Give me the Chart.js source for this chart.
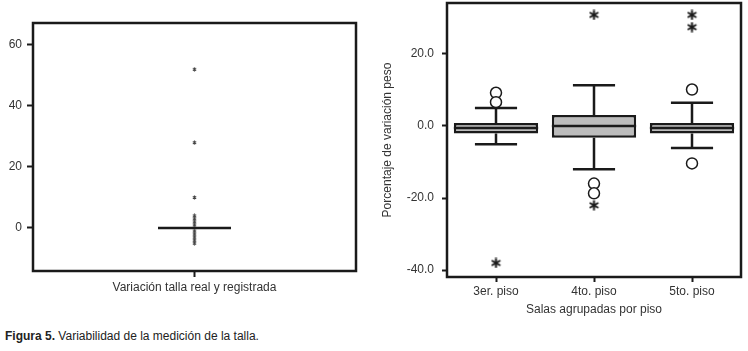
<!DOCTYPE html>
<html>
<head>
<meta charset="utf-8">
<script src="https://cdn.jsdelivr.net/npm/chart.js@4.4.1/dist/chart.umd.min.js"></script>
<style>
  body { margin: 0; background: #fff; }
  #page { position: relative; width: 748px; height: 351px; font-family: "Liberation Sans", Arial, sans-serif; color: #222; }
  #left { position: absolute; left: 0; top: 0; }
  #right { position: absolute; left: 370px; top: 0; }
  .caption { position: absolute; left: 5px; top: 328px; font-size: 12px; line-height: 16px; }
</style>
</head>
<body>
<div id="page">
  <canvas id="left" width="370" height="300"></canvas>
  <canvas id="right" width="378" height="320"></canvas>
  <div class="caption"><b>Figura 5.</b> Variabilidad de la medición de la talla.</div>
</div>
<script>
// left panel - talla
const tallaLabels = ["Variación talla real y registrada"];
const tallaQ1 = [0];
const tallaMedian = [0];
const tallaQ3 = [0];
const tallaLow = [0];
const tallaHigh = [0];
const tallaOutliers = [[]];
const tallaExtremes = [[52, 28, 10, 4, 3, 2, 1, -1, -2, -3, -4, -5]];
const tallaTicks = [0, 20, 40, 60];

// right panel - peso
const pisoLabels = ["3er. piso", "4to. piso", "5to. piso"];
const pesoQ1 = [-2.1, -3.3, -2.1];
const pesoMedian = [-0.6, 0, -0.6];
const pesoQ3 = [0.8, 3.0, 0.8];
const pesoLow = [-5.1, -12.0, -6.1];
const pesoHigh = [5.0, 11.3, 6.4];
const pesoOutliers = [[9.2, 6.6], [-16.0, -18.7], [10.1, -10.4]];
const pesoExtremes = [[-38.0], [30.8, -22.0], [30.8, 27.4]];
const pesoTicks = [-40, -20, 0, 20];

const ink = "#1a1a1a";
const textColor = "#333";
const font = { family: "'Liberation Sans', Arial, sans-serif", size: 12 };

// asterisk used by SPSS for extreme values
const makeStar = (size, lw, color) => {
  const c = document.createElement("canvas");
  c.width = c.height = size;
  const g = c.getContext("2d");
  g.strokeStyle = color;
  g.lineWidth = lw;
  const r = size / 2 - 0.5;
  [90, 30, 150].forEach((a) => {
    const rad = (a * Math.PI) / 180;
    g.moveTo(size / 2 - r * Math.cos(rad), size / 2 - r * Math.sin(rad));
    g.lineTo(size / 2 + r * Math.cos(rad), size / 2 + r * Math.sin(rad));
  });
  g.stroke();
  return c;
};

const toPoints = (labels, lists) => {
  let pts = [];
  lists.forEach((vals, i) => {
    vals.forEach((v) => pts.push({ x: labels[i], y: v }));
  });
  return pts;
};

// whiskers, median and the frame
const boxParts = (low, high, q1, q3, median) => ({
  id: "boxParts",
  afterDatasetsDraw(chart) {
    const ctx = chart.ctx;
    const y = chart.scales.y;
    const area = chart.chartArea;
    const meta = chart.getDatasetMeta(0);
    ctx.save();
    ctx.strokeStyle = ink;
    ctx.lineWidth = 2.5;
    meta.data.forEach((bar, i) => {
      const half = bar.width / 2;
      ctx.beginPath();
      if (high[i] > q3[i]) {
        ctx.moveTo(bar.x, y.getPixelForValue(q3[i]));
        ctx.lineTo(bar.x, y.getPixelForValue(high[i]));
        ctx.moveTo(bar.x - half / 2, y.getPixelForValue(high[i]));
        ctx.lineTo(bar.x + half / 2, y.getPixelForValue(high[i]));
      }
      if (low[i] < q1[i]) {
        ctx.moveTo(bar.x, y.getPixelForValue(q1[i]));
        ctx.lineTo(bar.x, y.getPixelForValue(low[i]));
        ctx.moveTo(bar.x - half / 2, y.getPixelForValue(low[i]));
        ctx.lineTo(bar.x + half / 2, y.getPixelForValue(low[i]));
      }
      ctx.moveTo(bar.x - half, y.getPixelForValue(median[i]));
      ctx.lineTo(bar.x + half, y.getPixelForValue(median[i]));
      ctx.stroke();
    });
    ctx.lineWidth = 2.5;
    ctx.strokeRect(area.left, area.top, area.right - area.left, area.bottom - area.top);
    ctx.restore();
  },
});

const makeBoxChart = (id, s) => {
  new Chart(document.getElementById(id), {
    type: "bar",
    data: {
      labels: s.labels,
      datasets: [
        {
          data: s.q1.map((v, i) => [v, s.q3[i]]),
          backgroundColor: "#bcbcbc",
          borderColor: ink,
          borderWidth: s.boxBorder,
          borderSkipped: false,
          barPercentage: s.barPct,
          categoryPercentage: 1,
        },
        {
          type: "line",
          data: toPoints(s.labels, s.outliers),
          showLine: false,
          pointStyle: "circle",
          pointRadius: 5.5,
          pointBackgroundColor: "#fff",
          pointBorderColor: ink,
          pointBorderWidth: 1.5,
        },
        {
          type: "line",
          data: toPoints(s.labels, s.extremes),
          showLine: false,
          pointStyle: s.star,
          pointRadius: 5,
        },
      ],
    },
    options: {
      responsive: false,
      animation: false,
      devicePixelRatio: 1,
      layout: { padding: s.padding, autoPadding: false },
      plugins: { legend: { display: false }, tooltip: { enabled: false } },
      scales: {
        x: {
          type: "category",
          offset: true,
          afterFit: (sc) => {
            sc.height = s.xHeight;
            sc.paddingLeft = 0;
            sc.paddingRight = 0;
          },
          grid: { display: true, drawOnChartArea: false, offset: false, tickLength: s.tickLen, tickColor: ink, tickWidth: 2 },
          border: { display: false },
          ticks: { padding: s.xPad, color: textColor, font: font, maxRotation: 0 },
          title: s.xTitle
            ? { display: true, text: s.xTitle, color: textColor, font: font, padding: { top: 4, bottom: 3 } }
            : { display: false },
        },
        y: {
          min: s.min,
          max: s.max,
          afterBuildTicks: (sc) => {
            sc.ticks = s.ticks.map((v) => ({ value: v }));
          },
          afterFit: (sc) => {
            sc.width = s.yWidth;
            sc.paddingTop = 0;
            sc.paddingBottom = 0;
          },
          grid: { display: true, drawOnChartArea: false, tickLength: s.tickLen, tickColor: ink, tickWidth: 2 },
          border: { display: false },
          ticks: { padding: s.yPad, color: textColor, font: font, callback: s.fmt },
          title: s.yTitle
            ? { display: true, text: s.yTitle, color: textColor, font: font, padding: { top: 10, bottom: 4 } }
            : { display: false },
        },
      },
    },
    plugins: [boxParts(s.low, s.high, s.q1, s.q3, s.median)],
  });
};

makeBoxChart("left", {
  labels: tallaLabels,
  q1: tallaQ1,
  q3: tallaQ3,
  median: tallaMedian,
  low: tallaLow,
  high: tallaHigh,
  outliers: tallaOutliers,
  extremes: tallaExtremes,
  ticks: tallaTicks,
  min: -14.1,
  max: 67.2,
  fmt: (v) => v,
  boxBorder: 0,
  barPct: 0.226,
  star: makeStar(5, 1.2, "#444"),
  padding: { top: 23, right: 14, left: 0, bottom: 0 },
  xHeight: 29,
  yWidth: 33,
  tickLen: 6,
  xPad: 3,
  yPad: 5,
});

makeBoxChart("right", {
  labels: pisoLabels,
  q1: pesoQ1,
  q3: pesoQ3,
  median: pesoMedian,
  low: pesoLow,
  high: pesoHigh,
  outliers: pesoOutliers,
  extremes: pesoExtremes,
  ticks: pesoTicks,
  min: -41.9,
  max: 34.1,
  fmt: (v) => v.toFixed(1),
  boxBorder: 2.5,
  barPct: 0.86,
  star: makeStar(11, 2, ink),
  padding: { top: 3, right: 7, left: 0, bottom: 0 },
  xHeight: 43,
  yWidth: 77,
  tickLen: 5,
  xPad: 2,
  yPad: 8,
  xTitle: "Salas agrupadas por piso",
  yTitle: "Porcentaje de variación peso",
});
</script>
</body>
</html>
